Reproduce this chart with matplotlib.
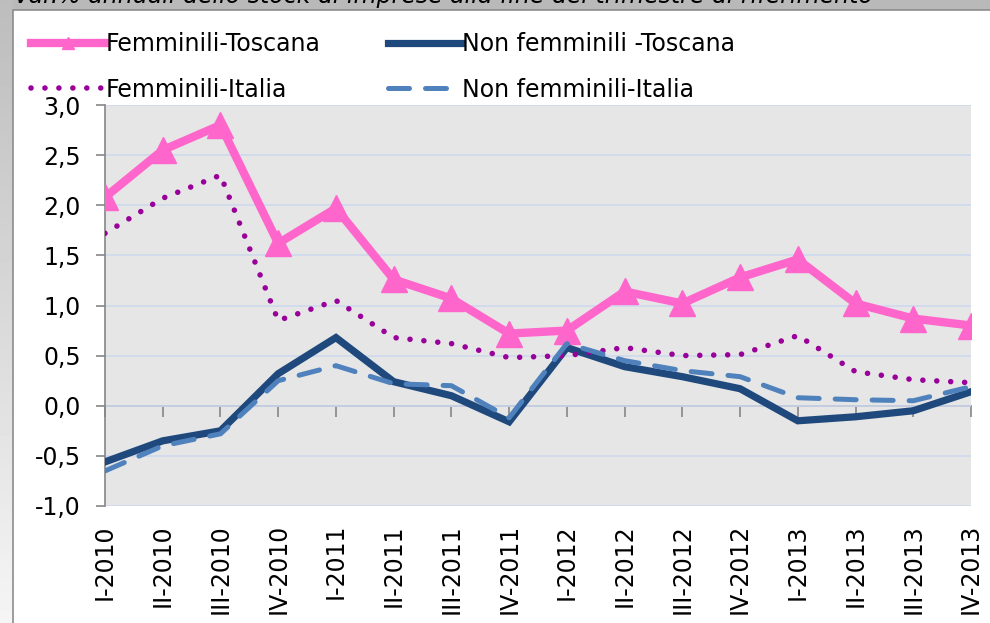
import numpy as np
import matplotlib
matplotlib.use('Agg')
import matplotlib.pyplot as plt
from matplotlib.patches import Rectangle

trimestri = ['I-2010', 'II-2010', 'III-2010', 'IV-2010',
             'I-2011', 'II-2011', 'III-2011', 'IV-2011',
             'I-2012', 'II-2012', 'III-2012', 'IV-2012',
             'I-2013', 'II-2013', 'III-2013', 'IV-2013']

femminili_toscana = [2.08, 2.55, 2.80, 1.62, 1.97, 1.26, 1.07, 0.72,
                     0.75, 1.14, 1.02, 1.28, 1.46, 1.02, 0.87, 0.80]
non_femminili_toscana = [-0.56, -0.35, -0.25, 0.32, 0.68, 0.24, 0.10, -0.16,
                         0.58, 0.39, 0.29, 0.17, -0.15, -0.11, -0.05, 0.14]
femminili_italia = [1.72, 2.07, 2.30, 0.85, 1.05, 0.68, 0.62, 0.48,
                    0.50, 0.58, 0.50, 0.51, 0.70, 0.34, 0.26, 0.23]
non_femminili_italia = [-0.65, -0.40, -0.28, 0.25, 0.40, 0.22, 0.20, -0.12,
                        0.62, 0.45, 0.35, 0.29, 0.08, 0.06, 0.05, 0.19]

titolo = 'Var.% annuali dello stock di imprese alla fine del trimestre di riferimento'

W, H = 990, 623
fig = plt.figure(figsize=(W / 100, H / 100), dpi=100)
fig.patch.set_facecolor('#b9b9b9')

# sfondo a sinistra (sfumato) e riquadro bianco del grafico
bg = fig.add_axes([0, 0, 13 / W, 1], zorder=-3)
bg.imshow(np.linspace(0.74, 0.96, 100).reshape(-1, 1), cmap='gray', vmin=0, vmax=1,
          aspect='auto', extent=[0, 1, 0, 1], origin='upper')
bg.axis('off')
fig.patches.append(Rectangle((13 / W, -0.05), 1.1, 1 - 10 / H + 0.05,
                             transform=fig.transFigure, facecolor='white',
                             edgecolor='#8c8c8c', linewidth=1.2, zorder=-2))

# titolo tagliato in alto, come nell'originale
fig.text(14 / W, 1 - 3 / H, titolo, fontsize=17, style='italic',
         ha='left', va='baseline', color='black')

ax = fig.add_axes([105 / W, 1 - 506 / H, 866 / W, 401 / H])
ax.set_facecolor('#e6e6e6')
x = np.arange(len(trimestri))

l1, = ax.plot(x, femminili_toscana, color='#ff66cc', lw=6.0, marker='^',
              markersize=19, solid_joinstyle='miter', label='Femminili-Toscana', zorder=3)
l2, = ax.plot(x, non_femminili_toscana, color='#1f497d', lw=5.2,
              solid_joinstyle='miter', label='Non femminili -Toscana', zorder=3)
l3, = ax.plot(x, femminili_italia, color='#990099', lw=4.0, linestyle=(0, (0.01, 2.5)),
              dash_capstyle='round', label='Femminili-Italia', zorder=4)
l4, = ax.plot(x, non_femminili_italia, color='#4f81bd', lw=3.6, linestyle=(0, (4.2, 3.2)),
              dash_capstyle='round', label='Non femminili-Italia', zorder=4)

ax.set_xlim(0, len(trimestri) - 1)
ax.set_ylim(-1.0, 3.0)
ax.set_yticks(np.arange(-1.0, 3.01, 0.5))
ax.set_yticklabels([f'{v:.1f}'.replace('.', ',') for v in np.arange(-1.0, 3.01, 0.5)],
                   fontsize=17)
ax.grid(axis='y', color='#cdd9ee', lw=1.2)
ax.set_axisbelow(True)

for s in ['top', 'right', 'bottom']:
    ax.spines[s].set_visible(False)
ax.spines['left'].set_color('#868686')
ax.spines['left'].set_linewidth(1.2)
ax.tick_params(axis='y', direction='out', length=6.5, width=1.2, color='#868686', pad=11)

# etichette in basso, asse delle categorie sullo zero
ax.set_xticks(x)
ax.set_xticklabels(trimestri, rotation=90, fontsize=17)
ax.tick_params(axis='x', length=0, pad=13)
ax0 = ax.secondary_xaxis(0.25)
ax0.set_xticks(x)
ax0.set_xticklabels([])
ax0.spines['bottom'].set_color('#868686')
ax0.spines['bottom'].set_linewidth(1.2)
ax0.tick_params(direction='out', length=8, width=1.2, color='#868686')

fig.legend(handles=[l1, l3, l2, l4], ncol=2, loc='upper left',
           bbox_to_anchor=(22 / W, 1 - 23 / H), frameon=False, fontsize=17,
           handlelength=3.1, handletextpad=0.05, columnspacing=2.85,
           labelspacing=0.9, borderaxespad=0, markerscale=0.42)

fig.savefig('out.png', dpi=100)
